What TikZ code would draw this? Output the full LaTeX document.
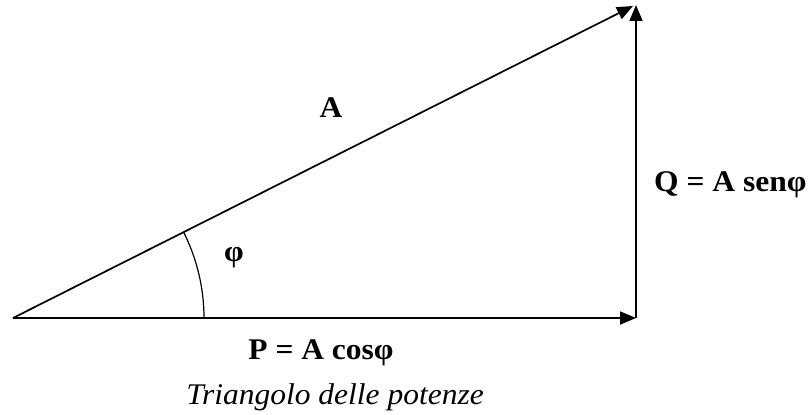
\documentclass[tikz,border=0pt]{standalone}
\usepackage{fontspec}
\setmainfont{Liberation Serif}
\usetikzlibrary{arrows.meta}
\newcommand{\wide}[1]{\scalebox{1.05}[1]{#1}}
\begin{document}
\begin{tikzpicture}[x=1pt,y=1pt,
  vec/.style={line width=1.7pt,-{Triangle[length=16pt,width=13pt]}},
  lab/.style={inner sep=0pt,font=\fontsize{30}{34}\selectfont\bfseries},
  captext/.style={inner sep=0pt,font=\fontsize{30}{34}\selectfont\itshape}]
\useasboundingbox (0,0) rectangle (812,415);
\coordinate (O) at (13,97);
\coordinate (B) at (636,97);
\coordinate (C) at (636,410);
\coordinate (H) at (633,409);
\draw[vec] (O) -- (B);
\draw[vec] (B) -- (C);
\draw[vec] (O) -- (H);
\draw[line width=1.2pt] (O) ++(191,0) arc[start angle=0,end angle=26.7,radius=191];
\node[lab,anchor=base] (a) at (331,297) {\wide{A}};
\node[lab] (phi) at (234,157) {\wide{φ}};
\node[lab,anchor=base west] (q) at (654,223) {\wide{Q = A senφ}};
\node[lab,anchor=base] (p) at (321,55) {\wide{P = A cosφ}};
\node[captext,anchor=base] (t) at (335,10) {\wide{Triangolo delle potenze}};
\end{tikzpicture}
\end{document}
